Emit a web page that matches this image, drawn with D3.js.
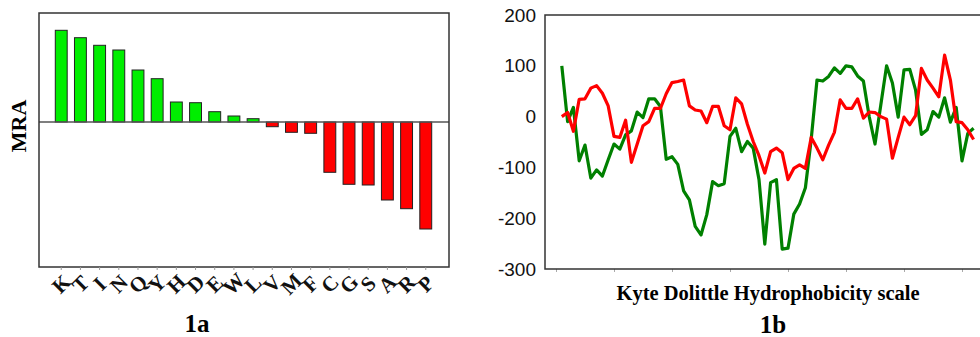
<!DOCTYPE html>
<html>
	<head>
		<meta charset="utf-8">
		<script src="https://d3js.org/d3.v7.min.js"></script>
		<style>
			body { margin: 0; background: #fff; }
			svg { display: block; }
		</style>
	</head>
	<body>
		<svg id="chart" width="980" height="337"></svg>
	<script>
			// Panel 1a - MRA per amino acid
			var residues = ["K","T","I","N","Q","Y","H","D","E","W","L","V","M","F","C","G","S","A","R","P"];
			var mra = [91.7, 84.3, 76.7, 72, 52, 43.3, 20, 19.3, 10.3, 6, 3.3, -4.7, -10.3, -11.3, -50.3, -62.3, -63, -78, -86.7, -107];

			// Panel 1b - hydrophobicity profiles (position 1..72)
			var greenSeries = [100, -10, 18, -87, -56, -121, -105, -117, -85, -54,
				-64, -36, -28, 9, -2, 35, 35, 20, -84, -79,
				-94, -146, -164, -216, -233, -193, -128, -136, -132, -39,
				-23, -69, -49, -62, -124, -251, -130, -124, -261, -259,
				-192, -172, -140, -45, 72, 70, 79, 96, 85, 100,
				98, 80, 70, 0, -54, 23, 100, 66, -1, 92,
				93, 52, -35, -26, 10, -1, 37, -11, 18, -87,
				-33, -23];
			var redSeries = [0, 8, -29, 34, 35, 56, 61, 46, 21, -39,
				-41, -7, -90, -54, -18, -10, 16, 16, 45, 67,
				69, 72, 21, 13, 11, -12, 20, 20, -18, -26,
				37, 25, -15, -49, -77, -111, -69, -62, -71, -124,
				-102, -95, -102, -41, -62, -85, -56, -31, 33, 16,
				16, 35, -3, 9, 8, 0, -5, -82, -41, -1,
				-16, 2, 95, 72, 56, 39, 121, 72, -10, -12,
				-26, -45];
			var yTicks = [200, 100, 0, -100, -200, -300];
			var xTicks = [0, 10, 20, 30, 40, 50, 60, 70];

			var svg = d3.select("#chart");
			var serif = "'Liberation Serif', 'DejaVu Serif', serif";
			var sans = "'Liberation Sans', Arial, sans-serif";

			// ---------- 1a ----------
			var a = { left: 39, right: 449, top: 13, bottom: 267 };
			var xa = d3.scaleBand().domain(residues).range([48, 439]).padding(0.38);
			var ya = d3.scaleLinear().domain([-145, 109]).range([a.bottom, a.top]);

			var ga = svg.append("g");
			ga.selectAll("rect.bar")
				.data(residues)
				.enter().append("rect")
				.attr("class", "bar")
				.attr("x", d => xa(d))
				.attr("width", xa.bandwidth())
				.attr("y", (d, i) => ya(Math.max(0, mra[i])))
				.attr("height", (d, i) => Math.abs(ya(mra[i]) - ya(0)))
				.attr("fill", (d, i) => mra[i] >= 0 ? "#00ee00" : "#ff0000")
				.attr("stroke", "#222")
				.attr("stroke-width", 1);

			// zero line
			ga.append("line")
				.attr("x1", a.left).attr("x2", a.right)
				.attr("y1", ya(0)).attr("y2", ya(0))
				.attr("stroke", "#555").attr("stroke-width", 1.5);

			// frame
			ga.append("rect")
				.attr("x", a.left).attr("y", a.top)
				.attr("width", a.right - a.left).attr("height", a.bottom - a.top)
				.attr("fill", "none").attr("stroke", "#333").attr("stroke-width", 1.5);

			// bottom ticks
			var axA = ga.append("g")
				.attr("transform", "translate(0," + a.bottom + ")")
				.call(d3.axisBottom(xa).tickSize(3).tickFormat(""));
			axA.select(".domain").remove();
			axA.selectAll("line").attr("stroke", "#999");

			// rotated residue letters
			ga.selectAll("text.res")
				.data(residues)
				.enter().append("text")
				.attr("class", "res")
				.attr("transform", d => "translate(" + (xa(d) + xa.bandwidth() / 2) + ",284) rotate(-45)")
				.attr("text-anchor", "middle")
				.attr("dominant-baseline", "central")
				.style("font-family", serif)
				.style("font-weight", "bold")
				.style("font-size", "21px")
				.attr("fill", "#111")
				.text(d => d);

			ga.append("text")
				.attr("transform", "translate(26,126) rotate(-90)")
				.attr("text-anchor", "middle")
				.style("font-family", serif)
				.style("font-weight", "bold")
				.style("font-size", "22px")
				.text("MRA");

			ga.append("text")
				.attr("x", 197).attr("y", 332)
				.attr("text-anchor", "middle")
				.style("font-family", serif)
				.style("font-weight", "bold")
				.style("font-size", "25px")
				.text("1a");

			// ---------- 1b ----------
			var b = { left: 545, top: 15, bottom: 269 };
			var xb = d3.scaleLinear().domain([0, 70]).range([556, 962]);
			var yb = d3.scaleLinear().domain([-300, 200]).range([b.bottom, b.top]);

			var gb = svg.append("g");

			var axY = gb.append("g")
				.attr("transform", "translate(" + b.left + ",0)")
				.call(d3.axisLeft(yb).tickValues(yTicks).tickSize(0).tickPadding(9).tickFormat(d => String(d)));
			axY.select(".domain").remove();
			axY.selectAll("text")
				.style("font-family", sans)
				.style("font-size", "19px")
				.attr("fill", "#111");

			var axX = gb.append("g")
				.attr("transform", "translate(0," + b.bottom + ")")
				.call(d3.axisBottom(xb).tickValues(xTicks).tickSize(3).tickFormat(""));
			axX.select(".domain").remove();
			axX.selectAll("line").attr("stroke", "#aaa");

			// frame lines (left, top, bottom)
			gb.append("path")
				.attr("d", "M990," + b.top + "H" + b.left + "V" + b.bottom + "H990")
				.attr("fill", "none").attr("stroke", "#333").attr("stroke-width", 1.5);

			var line = d3.line()
				.x((d, i) => xb(i + 1))
				.y(d => yb(d));

			gb.append("path")
				.datum(greenSeries)
				.attr("d", line)
				.attr("fill", "none")
				.attr("stroke", "#008000")
				.attr("stroke-width", 3.2)
				.attr("stroke-linejoin", "round");

			gb.append("path")
				.datum(redSeries)
				.attr("d", line)
				.attr("fill", "none")
				.attr("stroke", "#ff0000")
				.attr("stroke-width", 3.2)
				.attr("stroke-linejoin", "round");

			gb.append("text")
				.attr("x", 768).attr("y", 300)
				.attr("text-anchor", "middle")
				.style("font-family", serif)
				.style("font-weight", "bold")
				.style("font-size", "20.5px")
				.text("Kyte Dolittle Hydrophobicity scale");

			gb.append("text")
				.attr("x", 773).attr("y", 333)
				.attr("text-anchor", "middle")
				.style("font-family", serif)
				.style("font-weight", "bold")
				.style("font-size", "25px")
				.text("1b");
	</script>
	</body>
</html>
